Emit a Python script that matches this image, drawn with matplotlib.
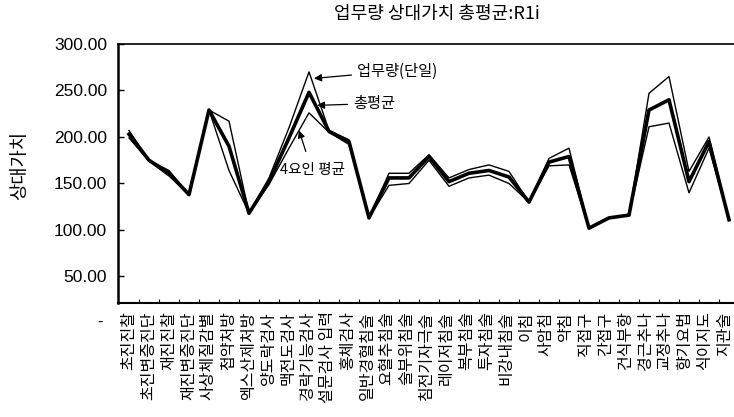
import matplotlib
matplotlib.use('Agg')
import matplotlib.pyplot as plt
import matplotlib.transforms as mtransforms
import numpy as np

plt.rcParams['font.family'] = ['Noto Sans CJK KR', 'DejaVu Sans']

items = ['초진진찰', '초진변증진단', '재진진찰', '재진변증진단', '사상체질감별',
         '첩약처방', '엑스산제처방', '양도락검사', '맥전도검사', '경락기능검사',
         '설문검사 입력', '홍체검사', '일반경혈침술', '요혈추침술', '술부위침술',
         '침전기자극술', '레이저침술', '복부침술', '투자침술', '비강내침술',
         '이침', '사암침', '약침', '직접구', '간접구', '건식부항', '경근추나',
         '교정추나', '향기요법', '식이지도', '지관술']

workload = [207, 175, 164, 138, 229, 217, 118, 156, 210, 270, 207, 197, 113,
            161, 161, 181, 156, 165, 170, 163, 130, 177, 188, 102, 113, 116,
            247, 265, 163, 200, 111]
total_avg = [203, 175, 161, 138, 229, 190, 118, 152, 199, 248, 206, 195, 113,
             156, 156, 179, 152, 161, 164, 157, 130, 173, 179, 102, 113, 116,
             229, 240, 152, 195, 111]
factor4 = [199, 174, 158, 138, 229, 164, 118, 149, 188, 226, 205, 192, 113,
           148, 150, 175, 147, 156, 159, 150, 130, 169, 170, 102, 113, 116,
           211, 215, 140, 188, 111]

yticks = [50, 100, 150, 200, 250, 300]

fig = plt.figure(figsize=(7.34, 4.17), dpi=100)
ax = fig.add_axes([118/734, 1 - 303/417, 616/734, 259/417])

x = np.arange(len(items))
ax.plot(x, workload, color='black', lw=1.0)
ax.plot(x, factor4, color='black', lw=1.0)
ax.plot(x, total_avg, color='black', lw=2.6)

ax.set_xlim(-0.55, 30.25)
ax.set_ylim(21.5, 300)

ax.set_yticks(yticks)
ax.set_yticklabels(['%.2f' % v for v in yticks], family='Liberation Sans', fontsize=12.5)
ax.tick_params(axis='y', direction='in', length=4, width=1, pad=8)

ax.set_xticks(x)
ax.set_xticklabels(items, rotation=90, fontsize=11.5)
ax.tick_params(axis='x', length=0, pad=6)
ax.set_xticks(x[:-1] + 0.5, minor=True)
ax.tick_params(axis='x', which='minor', direction='in', length=3, width=0.8)
# labels in the scan drift slightly left of the points toward the right end
for i, lbl in enumerate(ax.get_xticklabels()):
    shift = mtransforms.ScaledTranslation(-0.15 * i / 100, 0, fig.dpi_scale_trans)
    lbl.set_transform(lbl.get_transform() + shift)

ax.spines['right'].set_visible(False)
ax.spines['left'].set_linewidth(1.8)
ax.spines['bottom'].set_linewidth(1.5)
ax.spines['top'].set_linewidth(1.2)

ax.annotate('업무량(단일)', xy=(9.25, 263), xytext=(11.4, 271), fontsize=11,
            va='center', ha='left',
            arrowprops=dict(arrowstyle='-|>', color='black', lw=0.9, shrinkA=2, shrinkB=0))
ax.annotate('총평균', xy=(9.4, 234), xytext=(11.2, 236), fontsize=11,
            va='center', ha='left',
            arrowprops=dict(arrowstyle='-|>', color='black', lw=0.9, shrinkA=2, shrinkB=0))
ax.annotate('4요인 평균', xy=(8.5, 207), xytext=(9.15, 164), fontsize=10.5,
            va='center', ha='center',
            arrowprops=dict(arrowstyle='-|>', color='black', lw=0.9, shrinkA=7, shrinkB=0))

fig.text(20/734, 1 - 165/417, '상대가치', rotation=90, ha='center', va='center', fontsize=13.5)
fig.text(437/734, 1 - 14/417, '업무량 상대가치 총평균:R1i', ha='center', va='center', fontsize=13)
fig.text(100/734, 1 - 322/417, '-', ha='center', va='center', fontsize=12, family='Liberation Sans')

fig.savefig('out.png', dpi=100)
